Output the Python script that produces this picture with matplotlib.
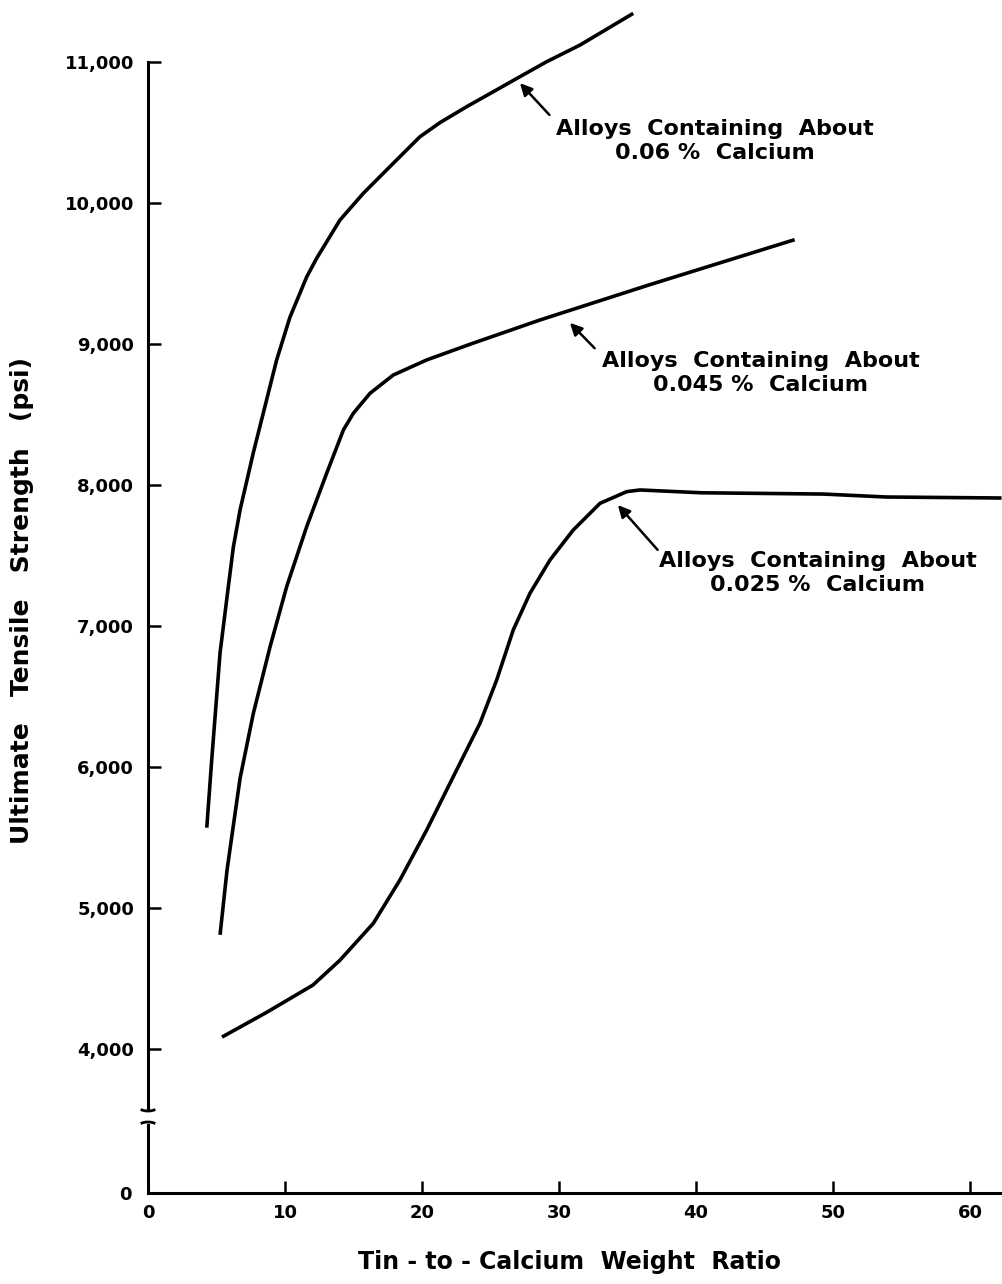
import numpy as np
import matplotlib
matplotlib.use("Agg")
import matplotlib.pyplot as plt  # noqa: E402
from matplotlib.patches import Arc  # noqa: E402

plt.rcParams["font.family"] = ["DejaVu Sans"]
plt.rcParams["font.weight"] = "bold"

# Tin-to-calcium weight ratio vs ultimate tensile strength (psi)
ratio_006 = [4.29, 4.65, 5.26, 5.74, 6.23, 6.72, 7.69, 9.39, 10.36, 11.58, 12.31,
             14.01, 15.72, 17.66, 19.85, 21.31, 23.26, 25.2, 27.15, 29.1, 31.53, 35.42]
uts_006 = [5570, 6050, 6810, 7184, 7560, 7823, 8230, 8887, 9190, 9475, 9608,
           9879, 10069, 10258, 10470, 10570, 10683, 10789, 10896, 11002, 11120, 11345]

ratio_0045 = [5.26, 5.77, 6.72, 7.69, 8.91, 10.12, 11.58, 13.04, 14.26, 14.99,
              16.2, 17.9, 20.34, 23.7, 28.6, 36.6, 47.2]
uts_0045 = [4810, 5270, 5920, 6381, 6853, 7279, 7704, 8083, 8390, 8509,
            8650, 8780, 8887, 9005, 9170, 9420, 9740]

ratio_0025 = [5.40, 8.69, 12.04, 14.01, 16.45, 18.39, 20.34, 22.28, 24.23, 25.45,
              26.66, 27.88, 29.34, 31.04, 32.99, 34.94, 35.91, 40.4, 49.3, 53.9, 62.3]
uts_0025 = [4085, 4262, 4454, 4630, 4892, 5199, 5553, 5931, 6310, 6617,
            6972, 7232, 7468, 7681, 7870, 7953, 7965, 7945, 7936, 7915, 7908]

x_ticks = [0, 10, 20, 30, 40, 50, 60]
y_ticks = [4000, 5000, 6000, 7000, 8000, 9000, 10000, 11000]
y_ticklabels = ["4,000", "5,000", "6,000", "7,000", "8,000", "9,000", "10,000", "11,000"]

labels = ["Alloys  Containing  About\n0.06 %  Calcium",
          "Alloys  Containing  About\n0.045 %  Calcium",
          "Alloys  Containing  About\n0.025 %  Calcium"]
arrow_tip = [(27.15, 10850), (30.8, 9150), (34.3, 7858)]
arrow_tail = [(29.3, 10625), (32.6, 8970), (37.2, 7540)]
label_pos = [(41.4, 10440), (44.7, 8795), (48.9, 7375)]

W, H = 1003, 1284
fig = plt.figure(figsize=(W / 100, H / 100), dpi=100)

left = 148 / W
width = (W - 148) / W
ax = fig.add_axes([left, 1 - 1108 / H, width, (1108 - 62) / H])
axb = fig.add_axes([left, 1 - 1193 / H, width, (1193 - 1125) / H])

xmax = (W - 148) / 13.7
lw = 2.6
for xs, ys in [(ratio_006, uts_006), (ratio_0045, uts_0045), (ratio_0025, uts_0025)]:
    ax.plot(xs, ys, color="black", lw=lw, clip_on=False,
            solid_joinstyle="round", solid_capstyle="butt")

ax.set_xlim(0, xmax)
ax.set_ylim(3582, 11000)
ax.set_yticks(y_ticks)
ax.set_yticklabels(y_ticklabels)
ax.set_xticks([])
for s in ["top", "right", "bottom"]:
    ax.spines[s].set_visible(False)
ax.spines["left"].set_linewidth(2.2)
ax.tick_params(axis="y", direction="in", length=9, width=1.8, pad=10, labelsize=13)

for txt, tip, tail, pos in zip(labels, arrow_tip, arrow_tail, label_pos):
    ax.annotate("", xy=tip, xytext=tail,
                arrowprops=dict(arrowstyle="-|>", color="black", lw=1.8,
                                mutation_scale=18, shrinkA=0, shrinkB=0))
    ax.text(pos[0], pos[1], txt, ha="center", va="center", fontsize=16,
            linespacing=1.25, multialignment="center")

axb.set_xlim(0, xmax)
axb.set_ylim(0, 68 * 7.092)
axb.set_xticks(x_ticks)
axb.set_yticks([0])
for s in ["top", "right"]:
    axb.spines[s].set_visible(False)
axb.spines["left"].set_linewidth(2.2)
axb.spines["bottom"].set_linewidth(2.2)
axb.tick_params(axis="x", direction="in", length=9, width=1.8, pad=8, labelsize=13)
axb.tick_params(axis="y", length=0, pad=12, labelsize=13)

# break marks on the y axis
for cy, t1, t2 in [(1106, 200, 340), (1127, 20, 160)]:
    fig.add_artist(Arc((148 / W, 1 - cy / H), 20 / W, 10 / H, theta1=t1, theta2=t2,
                       transform=fig.transFigure, lw=2.0, color="black"))

fig.text(22 / W, 1 - 600 / H, "Ultimate   Tensile   Strength   (psi)", rotation=90,
         ha="center", va="center", fontsize=18)
fig.text(570 / W, 1 - 1262 / H, "Tin - to - Calcium  Weight  Ratio",
         ha="center", va="center", fontsize=17)

fig.savefig("out.png", dpi=100, facecolor="white")
